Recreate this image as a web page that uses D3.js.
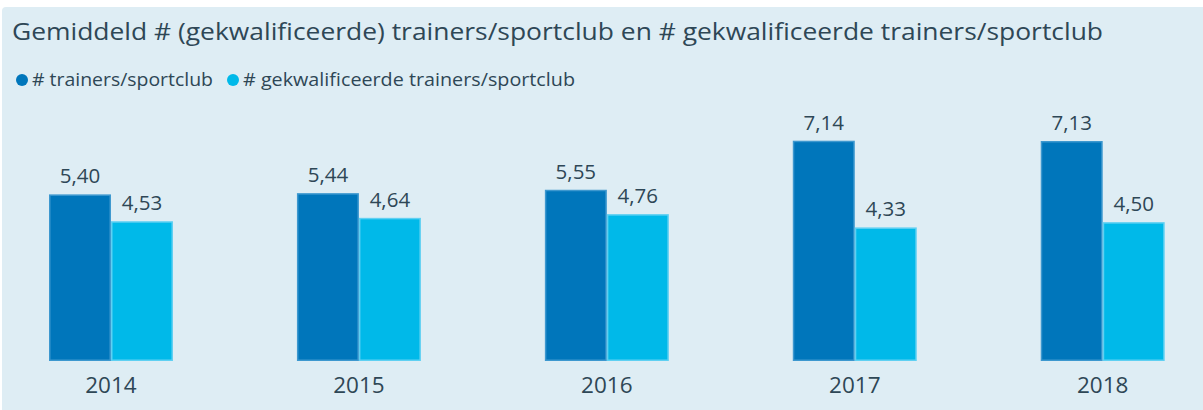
<!DOCTYPE html>
<html>
<head>
<meta charset="utf-8">
<script src="https://cdn.jsdelivr.net/npm/d3@7"></script>
<style>
  body { margin: 0; background: #fff; }
  svg { display: block; font-family: "Open Sans", sans-serif; }
</style>
</head>
<body>
<svg id="chart" width="1203" height="410"></svg>
<script>
var years = ["2014", "2015", "2016", "2017", "2018"];
var series = ["# trainers/sportclub", "# gekwalificeerde trainers/sportclub"];
var trainers = [5.40, 5.44, 5.55, 7.14, 7.13];
var gekwalificeerd = [4.53, 4.64, 4.76, 4.33, 4.50];
var colors = ["#0076bb", "#00b9e9"];
var strokes = ["#3d98cf", "#5fd0f2"];

var svg = d3.select("#chart");
var textColor = "#2e4756";

// panel
svg.append("rect")
    .attr("x", 2).attr("y", 7)
    .attr("width", 1210).attr("height", 420)
    .attr("rx", 4)
    .attr("fill", "#deedf4");

svg.append("text")
    .attr("x", 12).attr("y", 40)
    .attr("font-size", 24)
    .attr("fill", textColor)
    .attr("textLength", 1091)
    .attr("lengthAdjust", "spacingAndGlyphs")
    .text("Gemiddeld # (gekwalificeerde) trainers/sportclub en # gekwalificeerde trainers/sportclub");

// legend
var legendX = [22, 233];
var legendW = [181, 332];
series.forEach(function(s, i) {
    svg.append("circle")
        .attr("cx", legendX[i]).attr("cy", 80).attr("r", 6)
        .attr("fill", colors[i]);
    svg.append("text")
        .attr("x", legendX[i] + 10).attr("y", 86)
        .attr("font-size", 17.5)
        .attr("fill", textColor)
        .attr("textLength", legendW[i])
        .attr("lengthAdjust", "spacingAndGlyphs")
        .text(s);
});

var x0 = d3.scaleBand()
    .domain(years)
    .range([49, 1164.7])
    .paddingInner(0.5)
    .paddingOuter(0);

var x1 = d3.scaleBand()
    .domain([0, 1])
    .range([0, x0.bandwidth()]);

var y = d3.scaleLinear()
    .domain([0, 7.14])
    .range([361, 140.7]);

var data = years.map(function(yr, i) {
    return { year: yr, values: [trainers[i], gekwalificeerd[i]] };
});

var fmt = function(v) { return d3.format(".2f")(v).replace(".", ","); };

var group = svg.append("g").selectAll("g")
    .data(data)
    .enter().append("g")
    .attr("transform", function(d) { return "translate(" + x0(d.year) + ",0)"; });

group.selectAll("rect")
    .data(function(d) { return d.values; })
    .enter().append("rect")
    .attr("x", function(d, i) { return x1(i) + 0.75; })
    .attr("y", function(d) { return y(d) + 0.75; })
    .attr("width", x1.bandwidth() - 1.5)
    .attr("height", function(d) { return y(0) - y(d) - 1.5; })
    .attr("fill", function(d, i) { return colors[i]; })
    .attr("stroke", function(d, i) { return strokes[i]; })
    .attr("stroke-width", 1.5);

group.selectAll("text.val")
    .data(function(d) { return d.values; })
    .enter().append("text")
    .attr("class", "val")
    .attr("x", function(d, i) { return x1(i) + x1.bandwidth() / 2; })
    .attr("y", function(d) { return y(d) - 11; })
    .attr("text-anchor", "middle")
    .attr("font-size", 20.5)
    .attr("fill", textColor)
    .text(fmt);

// x axis labels
var xAxis = d3.axisBottom(x0).tickSize(0).tickPadding(0);
var ax = svg.append("g")
    .attr("transform", "translate(0,370)")
    .call(xAxis);
ax.select(".domain").remove();
ax.selectAll("text")
    .attr("font-size", 22.5)
    .attr("font-family", "Open Sans, sans-serif")
    .attr("fill", textColor)
    .attr("dy", null)
    .attr("y", 23);
</script>
</body>
</html>
